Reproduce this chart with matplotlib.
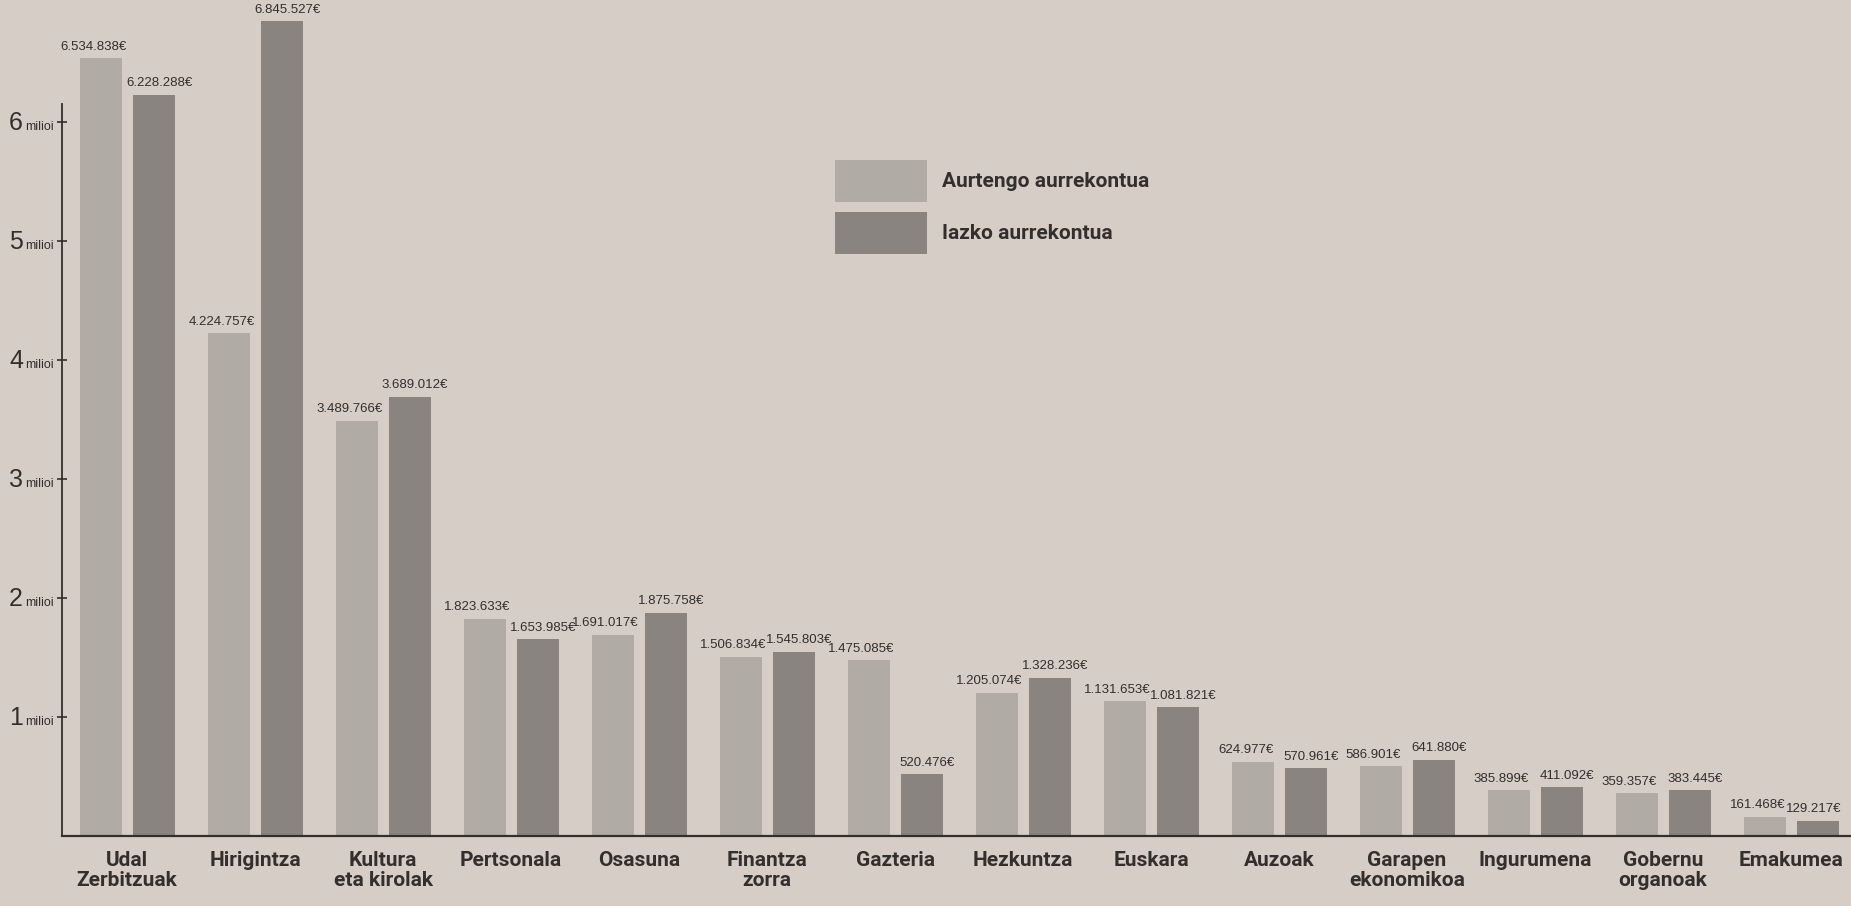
import matplotlib
matplotlib.use("Agg")
import matplotlib.pyplot as plt
import numpy as np


categories = ["Udal\nZerbitzuak", "Hirigintza", "Kultura\neta kirolak", "Pertsonala",
              "Osasuna", "Finantza\nzorra", "Gazteria", "Hezkuntza", "Euskara",
              "Auzoak", "Garapen\nekonomikoa", "Ingurumena", "Gobernu\norganoak",
              "Emakumea"]
aurtengo = [6534838, 4224757, 3489766, 1823633, 1691017, 1506834, 1475085,
            1205074, 1131653, 624977, 586901, 385899, 359357, 161468]
iazko = [6228288, 6845527, 3689012, 1653985, 1875758, 1545803, 520476,
         1328236, 1081821, 570961, 641880, 411092, 383445, 129217]
ytick_milioi = [1, 2, 3, 4, 5, 6]
legend_labels = ["Aurtengo aurrekontua", "Iazko aurrekontua"]

paper = "#d6cec6"
light = "#b1aba6"
dark = "#8a8480"
ink = "#332f2e"

W, H = 1851, 906
fig = plt.figure(figsize=(W / 100, H / 100), dpi=100, facecolor=paper)

# axes: left spine at x=62px, baseline at y=836px from top
left_px, base_px, px_per_mil = 62, 836, 119.0
ax = fig.add_axes([left_px / W, (H - base_px) / H, 1 - left_px / W, base_px / H])
ax.set_facecolor("none")

spacing = 128.0          # px per group
bar_w = 42 / spacing
off = 26.5 / spacing
x = np.arange(len(categories))

ax.bar(x - off, aurtengo, width=bar_w, color=light, label=legend_labels[0])
ax.bar(x + off, iazko, width=bar_w, color=dark, label=legend_labels[1])

x0 = -(127 - left_px) / spacing
ax.set_xlim(x0, x0 + (W - left_px) / spacing)
ax.set_ylim(0, base_px / px_per_mil * 1e6)


def euro(v):
    return f"{v:,}".replace(",", ".") + "€"


for xi, v in zip(x, aurtengo):
    ax.annotate(euro(v), (xi - off, v), xytext=(-5, 4), textcoords="offset points",
                ha="center", va="bottom", fontsize=9.5, family="Liberation Sans", color=ink)
for i, (xi, v) in enumerate(zip(x, iazko)):
    if i == len(x) - 1:
        # last label sits at the page edge
        ax.annotate(euro(v), (xi + off + bar_w / 2, v), xytext=(2, 4),
                    textcoords="offset points", ha="right", va="bottom",
                    fontsize=9.5, family="Liberation Sans", color=ink)
    else:
        ax.annotate(euro(v), (xi + off, v), xytext=(4, 4), textcoords="offset points",
                    ha="center", va="bottom", fontsize=9.5, family="Liberation Sans", color=ink)

# y axis: short spine with "N milioi" labels
for side in ["top", "right"]:
    ax.spines[side].set_visible(False)
ax.spines["left"].set_bounds(0, 6.15e6)
ax.spines["left"].set_color(ink)
ax.spines["left"].set_linewidth(1.3)
ax.spines["bottom"].set_color(ink)
ax.spines["bottom"].set_linewidth(1.6)

ax.set_yticks([m * 1e6 for m in ytick_milioi])
ax.set_yticklabels([])
ax.tick_params(axis="y", direction="inout", length=7, width=1.2, color=ink)
for m in ytick_milioi:
    ax.annotate(str(m), (0, m * 1e6), xycoords=("axes fraction", "data"),
                xytext=(-28, -5.8), textcoords="offset points", ha="right",
                va="baseline", fontsize=18, family="Liberation Sans", color=ink)
    ax.annotate("milioi", (0, m * 1e6), xycoords=("axes fraction", "data"),
                xytext=(-26.6, -5.8), textcoords="offset points", ha="left",
                va="baseline", fontsize=9, family="Liberation Sans", color=ink)

ax.set_xticks(x)
ax.set_xticklabels(categories, fontsize=15, family="Roboto", weight="bold",
                   color=ink, linespacing=1.05)
ax.tick_params(axis="x", length=0, pad=11)

leg = ax.legend(loc="upper left", bbox_to_anchor=(835 / W, 1 - 160 / H),
                bbox_transform=fig.transFigure, frameon=False, borderpad=0,
                borderaxespad=0, handlelength=4.4, handleheight=2.75,
                labelspacing=0.45, handletextpad=0.75,
                prop={"family": "Roboto", "weight": "bold", "size": 15})
for t in leg.get_texts():
    t.set_color(ink)

fig.savefig("out.png", dpi=100, facecolor=paper)
